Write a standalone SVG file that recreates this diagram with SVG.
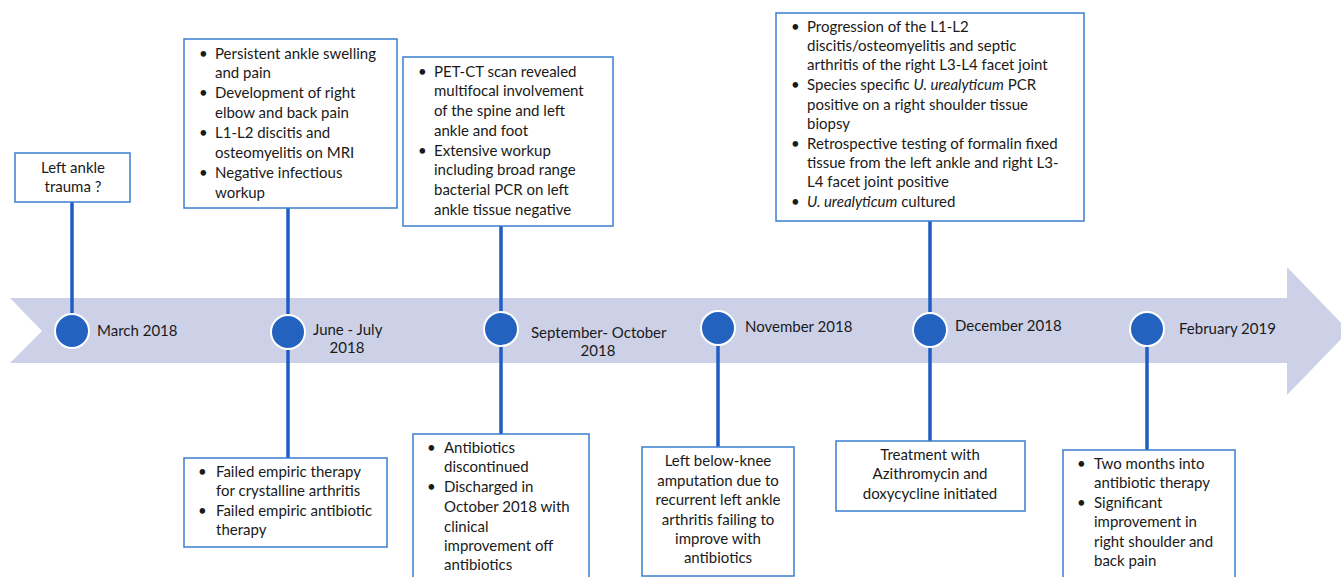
<svg xmlns="http://www.w3.org/2000/svg" width="1341" height="577" viewBox="0 0 1341 577">
<style>
text{font-family:Lato,"Liberation Sans",sans-serif;font-size:15px;fill:#1a1a1a}
.c{text-anchor:middle}
.box{fill:#fff;stroke:#3a7fd0;stroke-width:1.5}
.ln{stroke:#1f5cc4;stroke-width:3.5;fill:none}
.dot{fill:#2462c0;stroke:#fff;stroke-width:2}
.it{font-style:italic}
</style>
<rect width="1341" height="577" fill="#fff"/>
<g id="band">
<polygon points="10,298 1287,298 1287,267 1349,331 1287,395 1287,363 10,363 42,331" fill="#cdd1e8"/>
</g>
<g id="connectors">
<line class="ln" x1="72" y1="202" x2="72" y2="330"/>
<line class="ln" x1="288" y1="208" x2="288" y2="458"/>
<line class="ln" x1="501" y1="226" x2="501" y2="434"/>
<line class="ln" x1="718" y1="328" x2="718" y2="447"/>
<line class="ln" x1="930" y1="221" x2="930" y2="441"/>
<line class="ln" x1="1147" y1="329" x2="1147" y2="450"/>
</g>
<g id="m1">
<circle class="dot" cx="72" cy="331" r="17"/>
<text x="97" y="336">March 2018</text>
</g>
<g id="m2">
<circle class="dot" cx="288" cy="332" r="17"/>
<text x="313" y="335">June - July</text>
<text class="c" x="347" y="353">2018</text>
</g>
<g id="m3">
<circle class="dot" cx="501" cy="329" r="17"/>
<text x="531" y="338">September- October</text>
<text class="c" x="598" y="356">2018</text>
</g>
<g id="m4">
<circle class="dot" cx="718" cy="328" r="17"/>
<text x="745" y="332">November 2018</text>
</g>
<g id="m5">
<circle class="dot" cx="930" cy="330" r="17"/>
<text x="955" y="331">December 2018</text>
</g>
<g id="m6">
<circle class="dot" cx="1147" cy="329" r="17"/>
<text x="1179" y="334">February 2019</text>
</g>
<g id="b1">
<rect class="box" x="15" y="153" width="115" height="49"/>
<text class="c" x="73" y="173">Left ankle</text>
<text class="c" x="73" y="192">trauma ?</text>
</g>
<g id="b2">
<rect class="box" x="184" y="39" width="213" height="169"/>
<text x="199" y="59">•</text><text x="215" y="59">Persistent ankle swelling</text>
<text x="215" y="78">and pain</text>
<text x="199" y="98">•</text><text x="215" y="98">Development of right</text>
<text x="215" y="118">elbow and back pain</text>
<text x="199" y="138">•</text><text x="215" y="138">L1-L2 discitis and</text>
<text x="215" y="158">osteomyelitis on MRI</text>
<text x="199" y="178">•</text><text x="215" y="178">Negative infectious</text>
<text x="215" y="198">workup</text>
</g>
<g id="b3">
<rect class="box" x="403" y="57" width="210" height="169"/>
<text x="418" y="77">•</text><text x="434" y="77">PET-CT scan revealed</text>
<text x="434" y="96">multifocal involvement</text>
<text x="434" y="116">of the spine and left</text>
<text x="434" y="136">ankle and foot</text>
<text x="418" y="156">•</text><text x="434" y="156">Extensive workup</text>
<text x="434" y="175">including broad range</text>
<text x="434" y="195">bacterial PCR on left</text>
<text x="434" y="215">ankle tissue negative</text>
</g>
<g id="b4">
<rect class="box" x="776" y="13" width="308" height="208"/>
<text x="791" y="32">•</text><text x="807" y="32">Progression of the L1-L2</text>
<text x="807" y="51">discitis/osteomyelitis and septic</text>
<text x="807" y="70">arthritis of the right L3-L4 facet joint</text>
<text x="791" y="90">•</text><text x="807" y="90">Species specific <tspan class="it">U. urealyticum</tspan> PCR</text>
<text x="807" y="110">positive on a right shoulder tissue</text>
<text x="807" y="129">biopsy</text>
<text x="791" y="149">•</text><text x="807" y="149">Retrospective testing of formalin fixed</text>
<text x="807" y="168">tissue from the left ankle and right L3-</text>
<text x="807" y="187">L4 facet joint positive</text>
<text x="791" y="207">•</text><text x="807" y="207"><tspan class="it">U. urealyticum</tspan> cultured</text>
</g>
<g id="b5">
<rect class="box" x="184" y="458" width="203" height="89"/>
<text x="198" y="477">•</text><text x="216" y="477">Failed empiric therapy</text>
<text x="216" y="496">for crystalline arthritis</text>
<text x="198" y="516">•</text><text x="216" y="516">Failed empiric antibiotic</text>
<text x="216" y="535">therapy</text>
</g>
<g id="b6">
<rect class="box" x="413" y="434" width="176" height="150"/>
<text x="427" y="453">•</text><text x="444" y="453">Antibiotics</text>
<text x="444" y="472">discontinued</text>
<text x="427" y="492">•</text><text x="444" y="492">Discharged in</text>
<text x="444" y="512">October 2018 with</text>
<text x="444" y="532">clinical</text>
<text x="444" y="551">improvement off</text>
<text x="444" y="570">antibiotics</text>
</g>
<g id="b7">
<rect class="box" x="642" y="447" width="152" height="129"/>
<text class="c" x="718" y="466">Left below-knee</text>
<text class="c" x="718" y="486">amputation due to</text>
<text class="c" x="718" y="505">recurrent left ankle</text>
<text class="c" x="718" y="525">arthritis failing to</text>
<text class="c" x="718" y="544">improve with</text>
<text class="c" x="718" y="563">antibiotics</text>
</g>
<g id="b8">
<rect class="box" x="836" y="441" width="189" height="70"/>
<text class="c" x="930" y="460">Treatment with</text>
<text class="c" x="930" y="479">Azithromycin  and</text>
<text class="c" x="930" y="499">doxycycline initiated</text>
</g>
<g id="b9">
<rect class="box" x="1063" y="450" width="172" height="140"/>
<text x="1077" y="469">•</text><text x="1094" y="469">Two months into</text>
<text x="1094" y="488">antibiotic therapy</text>
<text x="1077" y="508">•</text><text x="1094" y="508">Significant</text>
<text x="1094" y="527">improvement in</text>
<text x="1094" y="547">right shoulder and</text>
<text x="1094" y="566">back pain</text>
</g>
</svg>
